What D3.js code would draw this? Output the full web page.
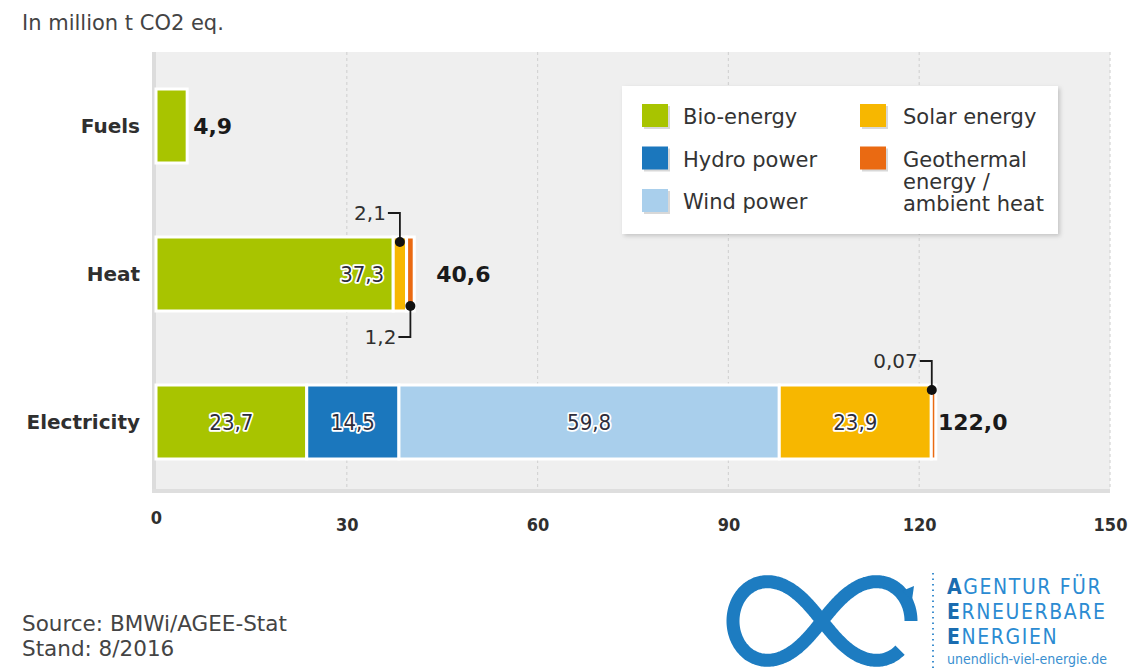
<!DOCTYPE html>
<html>
<head>
<meta charset="utf-8">
<script src="https://cdn.jsdelivr.net/npm/d3@7"></script>
<style>
  html, body { margin: 0; padding: 0; background: #ffffff; }
  svg { display: block; font-family: "DejaVu Sans", "Roboto", sans-serif; }
</style>
</head>
<body>
<svg id="chart" width="1130" height="672"></svg>
<script>
// ---------- data ----------
const categories = ["Fuels", "Heat", "Electricity"];
const seriesNames = ["Bio-energy", "Hydro power", "Wind power", "Solar energy", "Geothermal energy / ambient heat"];
const bioEnergy   = [4.9, 37.3, 23.7];
const hydroPower  = [0, 0, 14.5];
const windPower   = [0, 0, 59.8];
const solarEnergy = [0, 2.1, 23.9];
const geothermal  = [0, 1.2, 0.07];
const totals      = [4.9, 40.6, 122.0];
const xTicks      = [0, 30, 60, 90, 120, 150];
const legendLines = [["Bio-energy"], ["Hydro power"], ["Wind power"], ["Solar energy"], ["Geothermal", "energy /", "ambient heat"]];
const titleText   = "In million t CO2 eq.";
const sourceLines = ["Source: BMWi/AGEE-Stat", "Stand: 8/2016"];
const logoLines   = ["AGENTUR FÜR", "ERNEUERBARE", "ENERGIEN"];
const logoUrl     = "unendlich-viel-energie.de";

const seriesValues = [bioEnergy, hydroPower, windPower, solarEnergy, geothermal];
const colors = ["#a8c400", "#1b77bd", "#a9cfec", "#f7b700", "#ea6a12"];
const textDark = "#2f2f2f";
const condensed = "'DejaVu Sans Condensed', 'DejaVu Sans', sans-serif";
const fmt1 = v => v.toFixed(1).replace(".", ",");
const fmtRaw = v => String(v).replace(".", ",");

const svg = d3.select("#chart");
const defs = svg.append("defs");
const shadow = defs.append("filter").attr("id", "shadow").attr("x", "-5%").attr("y", "-5%").attr("width", "115%").attr("height", "120%");
shadow.append("feDropShadow").attr("dx", 2).attr("dy", 2).attr("stdDeviation", 2).attr("flood-color", "#000").attr("flood-opacity", 0.18);

// ---------- scales ----------
const x = d3.scaleLinear().domain([0, 150]).range([156, 1110]);
const y = d3.scaleBand().domain(categories).range([52, 496]).paddingInner(0.5).paddingOuter(0.25);

// ---------- plot background ----------
svg.append("rect").attr("x", x(0) - 4).attr("y", 52).attr("width", x(150) - x(0) + 4).attr("height", 440).attr("fill", "#efefef");
svg.append("rect").attr("x", x(0) - 4).attr("y", 52).attr("width", 4).attr("height", 440).attr("fill", "#dcdcdc");
svg.append("rect").attr("x", x(0) - 4).attr("y", 489).attr("width", x(150) - x(0) + 4).attr("height", 4).attr("fill", "#dedede");

// grid lines
svg.append("g").selectAll("line").data(xTicks.filter(t => t > 0)).join("line")
  .attr("x1", d => x(d)).attr("x2", d => x(d)).attr("y1", 52).attr("y2", 489)
  .attr("stroke", "#d4d4d4").attr("stroke-width", 1.2).attr("stroke-dasharray", "3,3");

// ---------- axis ----------
const axis = svg.append("g").attr("transform", `translate(0, 506)`)
  .call(d3.axisBottom(x).tickValues(xTicks).tickSize(0).tickPadding(0).tickFormat(d3.format("d")));
axis.select(".domain").remove();
axis.selectAll("text")
  .attr("font-family", condensed)
  .attr("font-size", 18).attr("font-weight", "bold").attr("fill", textDark)
  .attr("dy", (d, i) => i === 0 ? "1.0em" : "1.4em");

// ---------- legend ----------
const legend = svg.append("g");
legend.append("rect").attr("x", 622).attr("y", 86).attr("width", 436).attr("height", 148)
  .attr("fill", "#ffffff").attr("filter", "url(#shadow)");
const legendItems = seriesNames.map((name, i) => ({
  name, i, col: i < 3 ? 0 : 1, row: i < 3 ? i : i - 3
}));
const lg = legend.selectAll("g.item").data(legendItems).join("g")
  .attr("transform", d => `translate(${d.col === 0 ? 642 : 860}, ${104 + d.row * 42.5})`);
lg.append("rect").attr("x", 2).attr("y", 2).attr("width", 26).attr("height", 23).attr("fill", "#d8d8d8");
lg.append("rect").attr("width", 26).attr("height", 23).attr("fill", d => colors[d.i]);
lg.each(function(d) {
  const t = d3.select(this).append("text").attr("x", d.col === 0 ? 41 : 43).attr("y", 20)
    .attr("font-size", 21).attr("fill", "#333");
  legendLines[d.i].forEach((line, k) => {
    t.append("tspan").attr("x", d.col === 0 ? 41 : 43).attr("dy", k === 0 ? 0 : 22).text(line);
  });
});

// ---------- stacked bars ----------
const segments = [];
categories.forEach((cat, ci) => {
  let acc = 0;
  seriesValues.forEach((vals, si) => {
    const v = vals[ci];
    if (v > 0) {
      segments.push({ cat, ci, si, v, x0: acc, x1: acc + v });
      acc += v;
    }
  });
});

svg.append("g").selectAll("rect").data(segments).join("rect")
  .attr("x", d => x(d.x0))
  .attr("y", d => y(d.cat))
  .attr("width", d => Math.max(x(d.x1) - x(d.x0), 4.5))
  .attr("height", y.bandwidth())
  .attr("fill", d => colors[d.si])
  .attr("stroke", "#ffffff").attr("stroke-width", 3);

// labels inside large segments
const inside = segments.filter(d => d.v >= 10 && segments.filter(s => s.ci === d.ci).length > 1);
const bigCount = ci => segments.filter(s => s.ci === ci && s.v >= 10).length;
svg.append("g").selectAll("text").data(inside).join("text")
  .attr("x", d => bigCount(d.ci) > 1 ? (x(d.x0) + x(d.x1)) / 2 : x(d.x1) - 9)
  .attr("text-anchor", d => bigCount(d.ci) > 1 ? "middle" : "end")
  .attr("y", d => y(d.cat) + y.bandwidth() / 2 + 8)
  .attr("font-family", condensed)
  .attr("font-size", 22).attr("fill", "#2d2d3c")
  .attr("stroke", "#ffffff").attr("stroke-width", 3.5).attr("paint-order", "stroke").attr("stroke-linejoin", "round")
  .text(d => fmt1(d.v));

// call-outs for small segments
const callouts = [];
categories.forEach((cat, ci) => {
  const segs = segments.filter(s => s.ci === ci);
  if (segs.length < 2) return;
  segs.filter(s => s.v < 10).forEach((s, k) => callouts.push({ ...s, up: k % 2 === 0 }));
});
const cg = svg.append("g");
callouts.forEach(d => {
  const cx = Math.max((x(d.x0) + x(d.x1)) / 2, x(d.x0) + 0.5);
  const top = y(d.cat), bot = y(d.cat) + y.bandwidth();
  const dotY = d.up ? top + 5 : bot - 5;
  const elbowY = d.up ? top - 24 : bot + 26;
  cg.append("path")
    .attr("d", `M${cx - 12},${elbowY} H${cx} V${dotY}`)
    .attr("fill", "none").attr("stroke", "#1a1a1a").attr("stroke-width", 1.8);
  cg.append("circle").attr("cx", cx).attr("cy", dotY).attr("r", 5).attr("fill", "#111");
  cg.append("text").attr("x", cx - 14).attr("y", elbowY + 7).attr("text-anchor", "end")
    .attr("font-size", 20).attr("fill", textDark).text(fmtRaw(d.v));
});

// totals
svg.append("g").selectAll("text").data(categories).join("text")
  .attr("x", (d, i) => {
    const n = callouts.filter(c => c.ci === i).length;
    return x(totals[i]) + 6 + Math.max(0, n - 1) * 16;
  })
  .attr("y", d => y(d) + y.bandwidth() / 2 + 8)
  .attr("font-size", 22).attr("font-weight", "bold").attr("fill", "#1a1a1a")
  .text((d, i) => fmt1(totals[i]));

// category labels
svg.append("g").selectAll("text").data(categories).join("text")
  .attr("x", 140).attr("y", d => y(d) + y.bandwidth() / 2 + 7)
  .attr("text-anchor", "end").attr("font-size", 20).attr("font-weight", "bold").attr("fill", textDark)
  .text(d => d);

// ---------- title & source ----------
svg.append("text").attr("x", 22).attr("y", 30).attr("font-size", 21).attr("fill", "#444").text(titleText);
svg.append("g").selectAll("text").data(sourceLines).join("text")
  .attr("x", 22).attr("y", (d, i) => 631 + i * 25).attr("font-size", 21.5).attr("fill", "#444").text(d => d);

// ---------- logo ----------
const logo = svg.append("g");
const a = 89, sy = 1.25, lcx = 822, lcy = 621;
const lemPts = d3.range(0, 2 * Math.PI + 0.01, 0.02).map(t => {
  const den = 1 + Math.sin(t) * Math.sin(t);
  return [lcx + a * Math.cos(t) / den, lcy - sy * a * Math.sin(t) * Math.cos(t) / den];
});
logo.append("path").attr("d", d3.line().curve(d3.curveCatmullRom)(lemPts.filter((p, i) => i < 300)))
  .attr("fill", "none").attr("stroke", "#1d7cc1").attr("stroke-width", 13);
logo.append("path").attr("d", `M${lcx + 80},${lcy - 30} l12,-5 l-2,14 z`).attr("fill", "#1d7cc1");
logo.append("line").attr("x1", 933).attr("x2", 933).attr("y1", 573).attr("y2", 672)
  .attr("stroke", "#3f8fcf").attr("stroke-width", 2).attr("stroke-dasharray", "1.5,4");
logoLines.forEach((line, i) => {
  const t = logo.append("text").attr("x", 947).attr("y", 594 + i * 25).attr("font-size", 21)
    .attr("letter-spacing", 1.6)
    .attr("font-family", condensed).attr("fill", "#2b8bd2");
  t.append("tspan").attr("font-weight", "bold").attr("fill", "#1a6cb0").text(line[0]);
  t.append("tspan").text(line.slice(1));
});
logo.append("text").attr("x", 947).attr("y", 664).attr("font-size", 14).attr("font-family", condensed)
  .attr("fill", "#3a8fd0").text(logoUrl);
</script>
</body>
</html>
